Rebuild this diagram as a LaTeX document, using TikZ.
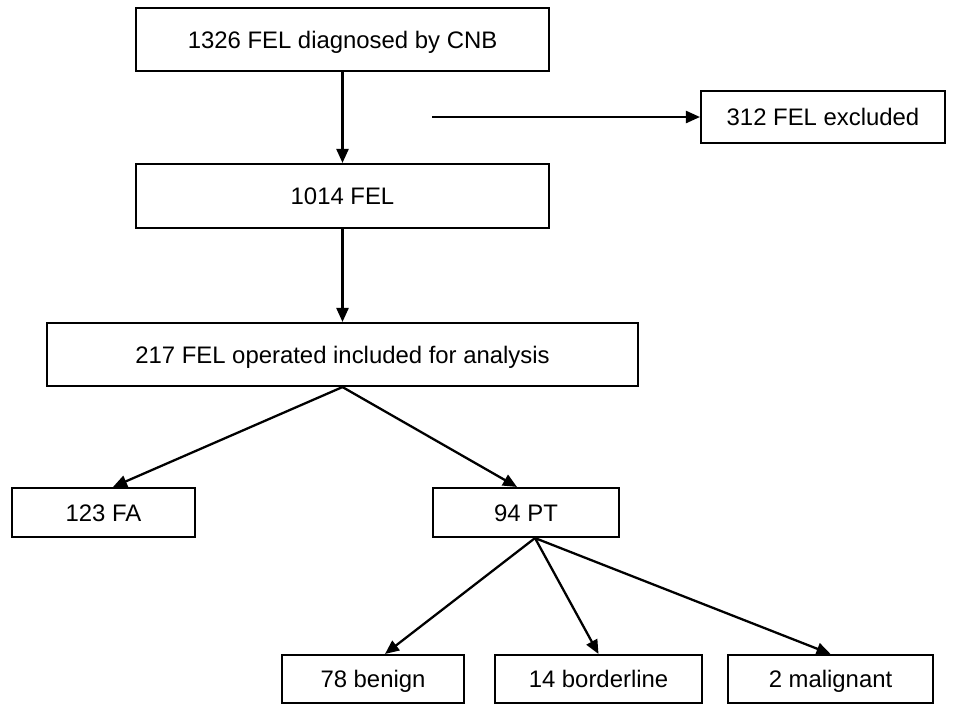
\documentclass[tikz,border=0pt]{standalone}
\usepackage{fontspec}
\setmainfont{Liberation Sans}
\usetikzlibrary{arrows.meta,calc,positioning}

\begin{document}
\begin{tikzpicture}[x=0.02cm,y=-0.02cm,
    flowbox/.style={draw,line width=1.2pt,inner sep=0pt,align=center,
      text height=9.8pt,text depth=0pt,
      font=\fontsize{13.6}{15}\selectfont},
    flowarrow/.style={line width=1.3pt,-{Triangle[length=0.28cm,width=0.24cm]}}]
  \useasboundingbox (0,0) rectangle (955,704);
  % top of the chart
  \node[flowbox,minimum width=8.26cm,minimum height=1.26cm] (diag) at (342.5,39.5) {1326 FEL diagnosed by CNB};
  \node[flowbox,minimum width=4.88cm,minimum height=1.04cm] (excl) at (823,117) {312 FEL excluded};
  \node[flowbox,minimum width=8.26cm,minimum height=1.28cm] (fel) at (342.5,196) {1014 FEL};
  \node[flowbox,minimum width=11.82cm,minimum height=1.26cm] (oper) at (342.5,354.5) {217 FEL operated included for analysis};
  % second level
  \node[flowbox,minimum width=3.66cm,minimum height=0.98cm] (fa) at (103.5,512.5) {123 FA};
  \node[flowbox,minimum width=3.72cm,minimum height=0.98cm] (pt) at (526,512.5) {94 PT};
  % PT subtypes
  \node[flowbox,minimum width=3.64cm,minimum height=0.96cm] (benign) at (373,679) {78 benign};
  \node[flowbox,minimum width=4.14cm,minimum height=0.96cm] (border) at (598.5,679) {14 borderline};
  \node[flowbox,minimum width=4.10cm,minimum height=0.96cm] (malig) at (830.5,679) {2 malignant};
  \coordinate (exclstart) at (432,117);
  % connectors
  \draw[flowarrow] (diag.south) -- (fel.north);
  \draw[flowarrow] (exclstart) -- (excl.west);
  \draw[flowarrow] (fel.south) -- (oper.north);
  \draw[flowarrow] (oper.south) -- ([xshift=0.19cm]fa.north);
  \draw[flowarrow] (oper.south) -- ([xshift=-0.18cm]pt.north);
  \draw[flowarrow] ([xshift=0.18cm]pt.south) -- ([xshift=0.24cm]benign.north);
  \draw[flowarrow] ([xshift=0.18cm]pt.south) -- (border.north);
  \draw[flowarrow] ([xshift=0.18cm]pt.south) -- (malig.north);
\end{tikzpicture}
\end{document}
